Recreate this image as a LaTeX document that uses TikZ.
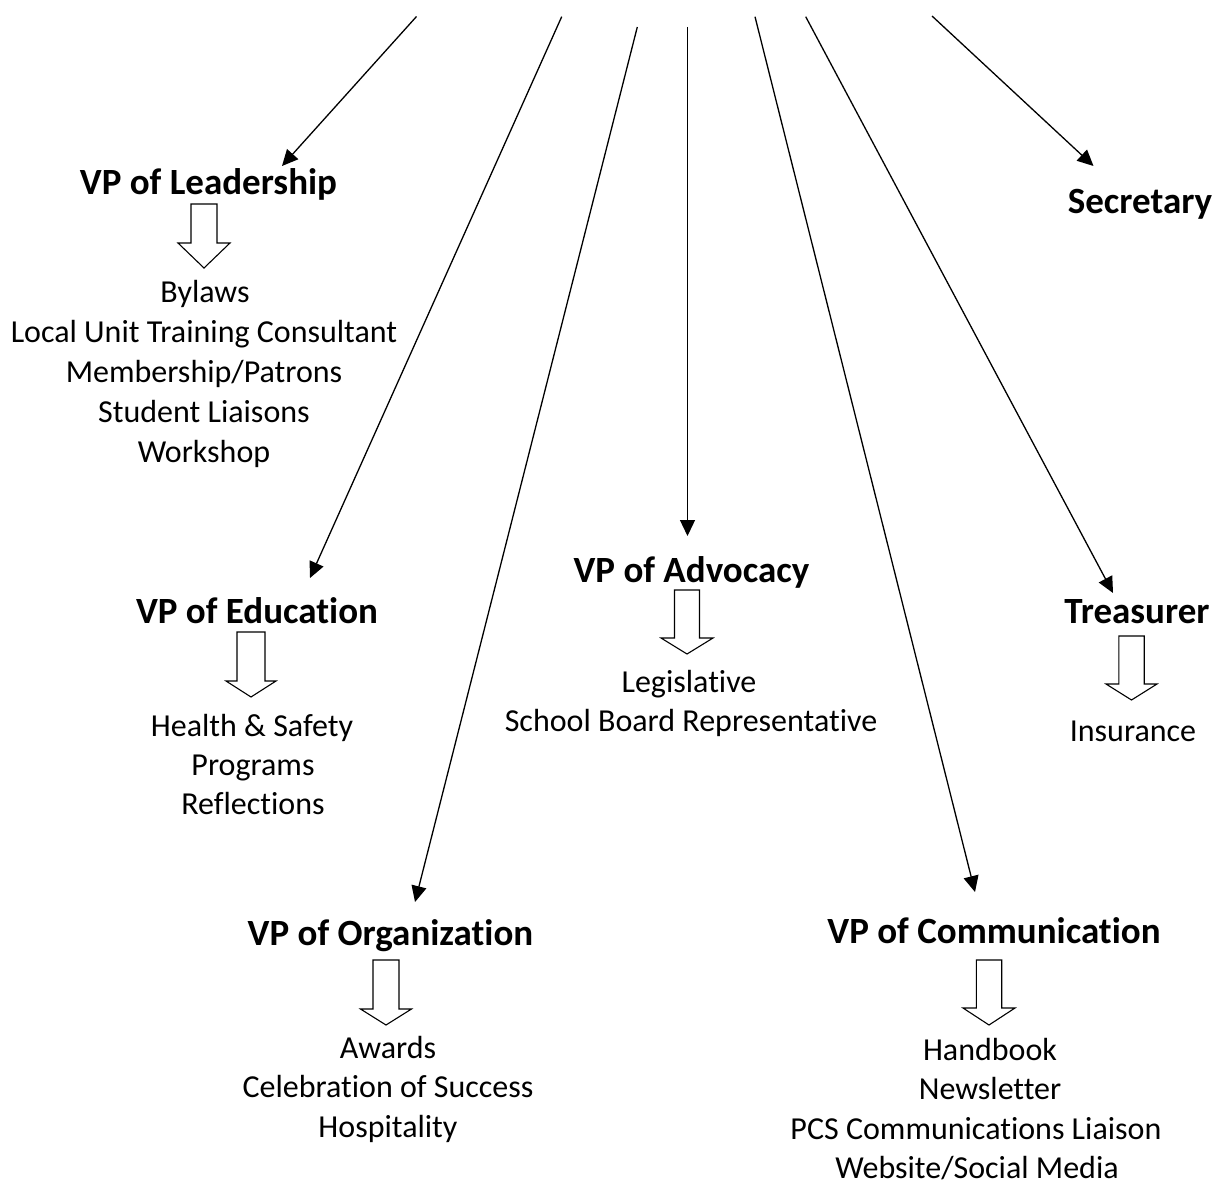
\documentclass[tikz,border=0pt]{standalone}
\usepackage{fontspec}
\setmainfont{Carlito}[Ligatures={NoCommon}]
\usetikzlibrary{arrows.meta}
\newcommand\blkarrow[7]{% name, cx, top, headY, tip, shaftHalf, headHalf
  \draw[blockarrow] (#2-#6,#3) coordinate (#1) -- (#2+#6,#3) -- (#2+#6,#4) -- (#2+#7,#4)
     -- (#2,#5) -- (#2-#7,#4) -- (#2-#6,#4) -- cycle;}
\tikzset{
  head/.style={font=\fontsize{37}{44}\selectfont\bfseries, inner sep=0pt, anchor=base},
  item/.style={font=\fontsize{32}{40}\selectfont, inner sep=0pt, anchor=base},
  conn/.style={line width=1.3pt, -{Triangle[length=16pt,width=15pt]}},
  blockarrow/.style={draw=black, fill=white, line width=1.1pt, line join=miter},
}
\begin{document}
\begin{tikzpicture}[x=1pt,y=-1pt]
\useasboundingbox[fill=white] (0,0) rectangle (1220,1188);

% headers
\node[head] (lead) at (208.5,194) {VP of Leadership};
\node[head] (sec) at (1140,213) {Secretary};
\node[head] (edu) at (257,623) {VP of Education};
\node[head] (adv) at (691.5,582) {VP of Advocacy};
\node[head] (tre) at (1137,623) {Treasurer};
\node[head] (org) at (390.5,945) {VP of Organization};
\node[head] (com) at (994,943) {VP of Communication};

% lists
\node[item] (l1) at (205,302) {Bylaws};
\node[item] (l2) at (204,342) {Local Unit Training Consultant};
\node[item] (l3) at (204,382) {Membership/Patrons};
\node[item] (l4) at (204,422) {Student Liaisons};
\node[item] (l5) at (204,462) {Workshop};

\node[item] (e1) at (252,736) {Health \& Safety};
\node[item] (e2) at (253,775) {Programs};
\node[item] (e3) at (253,814) {Reflections};

\node[item] (a1) at (689,692) {Legislative};
\node[item] (a2) at (691,731) {School Board Representative};

\node[item] (t1) at (1133,741) {Insurance};

\node[item] (o1) at (388,1058) {Awards};
\node[item] (o2) at (388,1097) {Celebration of Success};
\node[item] (o3) at (388,1137) {Hospitality};

\node[item] (c1) at (990,1060) {Handbook};
\node[item] (c2) at (990,1099) {Newsletter};
\node[item] (c3) at (976,1139) {PCS Communications Liaison};
\node[item] (c4) at (977,1178) {Website/Social Media};

% connector ends
\coordinate (s1) at (416.5,16.5);  \coordinate (t1e) at (282,166);
\coordinate (s2) at (561.7,16.7);  \coordinate (t2e) at (310,578);
\coordinate (s3) at (637.3,27);    \coordinate (t3e) at (415,902);
\coordinate (s4) at (687.5,27);    \coordinate (t4e) at (687.5,536);
\coordinate (s5) at (755,16.7);    \coordinate (t5e) at (975,892);
\coordinate (s6) at (805.7,16.7);  \coordinate (t6e) at (1113,593);
\coordinate (s7) at (932,16);      \coordinate (t7e) at (1093.5,166);

\draw[conn] (s1) -- (t1e);
\draw[conn] (s2) -- (t2e);
\draw[conn] (s3) -- (t3e);
\draw[conn] (s4) -- (t4e);
\draw[conn] (s5) -- (t5e);
\draw[conn] (s6) -- (t6e);
\draw[conn] (s7) -- (t7e);

% block arrows
\blkarrow{bl}{204}{204}{243}{268}{13}{26}
\blkarrow{be}{251}{632}{681}{697}{14}{25}
\blkarrow{ba}{687}{590}{638}{654}{12.5}{26}
\blkarrow{bt}{1131.5}{636}{684}{700}{12.7}{25.5}
\blkarrow{bo}{386}{960}{1009}{1025}{13}{25.5}
\blkarrow{bc}{989}{960}{1008}{1025}{12.7}{26}
\end{tikzpicture}
\end{document}
